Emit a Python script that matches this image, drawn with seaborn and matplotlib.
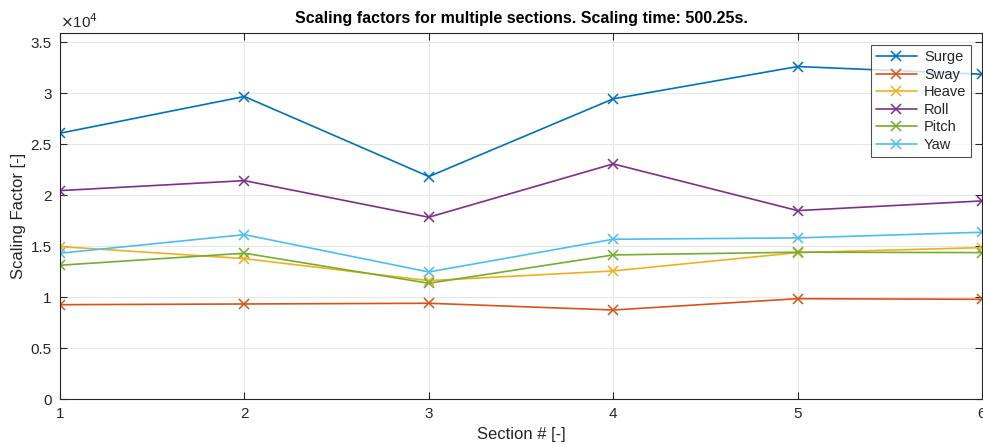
import numpy as np
import pandas as pd
import matplotlib
matplotlib.use("Agg")
import matplotlib.pyplot as plt
from matplotlib.ticker import FuncFormatter, MultipleLocator
import seaborn as sns

sections = [1, 2, 3, 4, 5, 6]
surge = [26070, 29670, 21820, 29440, 32610, 31860]
sway = [9250, 9320, 9390, 8730, 9840, 9780]
heave = [14950, 13770, 11610, 12560, 14360, 14850]
roll = [20440, 21420, 17830, 23060, 18480, 19430]
pitch = [13120, 14300, 11350, 14130, 14400, 14360]
yaw = [14300, 16120, 12460, 15670, 15800, 16360]

names = ["Surge", "Sway", "Heave", "Roll", "Pitch", "Yaw"]
colors = ["#0072BD", "#D95319", "#EDB120", "#7E2F8E", "#77AC30", "#4DBEEE"]
series = [surge, sway, heave, roll, pitch, yaw]

df = pd.DataFrame({
    "Section": sections * 6,
    "Value": [v for s in series for v in s],
    "DOF": [n for n in names for _ in sections],
})

sns.set_theme(style="white")
plt.rcParams["font.family"] = ["Liberation Sans", "DejaVu Sans"]

fig = plt.figure(figsize=(9.83, 4.44), dpi=100)
ax = fig.add_axes([60 / 983, 1 - 399 / 444, 922 / 983, 366 / 444])

for name, c in zip(names, colors):
    sns.lineplot(data=df[df["DOF"] == name], x="Section", y="Value",
                 color=c, marker="x", markersize=6.5, markeredgewidth=1.1,
                 markeredgecolor=c, linewidth=1.2, ax=ax, label=name)

ax.set_xlim(1, 6)
ax.set_ylim(0, 35900)
ax.xaxis.set_major_locator(MultipleLocator(1))
ax.yaxis.set_major_locator(MultipleLocator(5000))
ax.yaxis.set_major_formatter(FuncFormatter(lambda v, p: f"{v / 1e4:g}"))

ax.grid(True, color="#e6e6e6", linewidth=0.7)
for s in ax.spines.values():
    s.set_color("#262626")
    s.set_linewidth(0.8)
ax.tick_params(axis="both", direction="in", length=5, width=0.8, color="#262626",
               labelsize=11, labelcolor="#262626", top=True, right=True,
               left=True, bottom=True, pad=6)

ax.set_xlabel("Section # [-]", fontsize=12, color="#262626", labelpad=4)
ax.set_ylabel("Scaling Factor [-]", fontsize=12, color="#262626", labelpad=3)
ax.set_title("Scaling factors for multiple sections. Scaling time: 500.25s.",
             fontsize=11.5, fontweight="bold", color="black", pad=7)

ax.text(0.0, 1.005, r"$\times$10$^{4}$", transform=ax.transAxes, fontsize=11,
        color="#262626", ha="left", va="bottom")

handles, labels = ax.get_legend_handles_labels()
leg = ax.legend(handles, labels, loc="upper right", bbox_to_anchor=(0.9885, 0.967),
                fontsize=10.5, frameon=True, fancybox=False, handlelength=2.8,
                labelspacing=0.24, borderpad=0.35, handletextpad=0.5,
                borderaxespad=0)
leg.get_frame().set_edgecolor("#262626")
leg.get_frame().set_linewidth(0.8)

fig.savefig("out.png", dpi=100)
